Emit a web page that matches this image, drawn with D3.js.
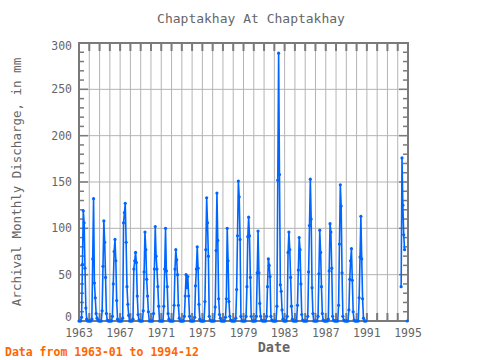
<!DOCTYPE html>
<html>
<head>
<meta charset="utf-8">
<script src="https://cdn.jsdelivr.net/npm/d3@7"></script>
<style>
  html, body { margin: 0; padding: 0; background: #fff; }
  svg { display: block; }
  text { font-family: "DejaVu Sans Mono", monospace; fill: #666; }
</style>
</head>
<body>
<svg id="chart" width="480" height="360"></svg>
<script>
// ---- Data (monthly discharge in mm, Jan..Dec per year; null = missing) ----
const startYear = 1963;
const discharge1960s = [
  0,0,0,4,61,119,106,57,14,2,0,0,      // 1963
  0,0,0,2,67,132,41,25,8,3,1,0,        // 1964
  0,0,0,11,59,108,85,47,8,1,0,0,       // 1965
  0,0,0,5,40,75,88,65,22,2,0,0,        // 1966
  0,0,0,3,106,117,127,85,37,18,6,0,    // 1967
  0,0,0,2,56,65,74,63,27,7,1,0,        // 1968
  0,0,0,11,53,96,77,45,27,10,0,0       // 1969
];
const discharge1970s = [
  0,0,0,8,56,102,70,56,37,16,0,0,      // 1970
  0,0,0,16,56,100,54,37,8,2,0,0,       // 1971
  0,0,0,17,56,77,66,50,17,3,0,0,       // 1972
  0,0,0,5,27,50,36,48,27,5,0,0,        // 1973
  0,0,0,4,38,56,80,57,18,2,0,0,        // 1974
  0,0,0,21,77,133,106,70,5,1,0,0,      // 1975
  0,0,0,15,76,138,87,24,7,3,0,0,       // 1976
  0,0,0,4,24,100,65,21,5,1,0,0,        // 1977
  0,0,0,3,34,92,151,134,88,5,0,0,      // 1978
  0,0,0,5,37,91,112,92,47,5,0,0        // 1979
];
const discharge1980s = [
  0,0,0,5,52,97,52,19,5,1,0,0,         // 1980
  0,0,0,5,37,67,60,48,5,1,0,0,         // 1981
  0,0,0,16,152,289,158,39,32,12,2,0,   // 1982
  0,0,0,5,74,96,77,47,16,2,0,0,        // 1983
  0,0,0,17,55,90,77,40,7,1,0,0,        // 1984
  0,0,0,5,53,103,153,110,36,8,0,0,     // 1985
  0,0,0,5,51,98,74,37,8,1,0,0,         // 1986
  0,0,0,2,54,105,96,57,5,1,0,0,        // 1987
  0,0,0,17,83,147,124,52,5,1,0,0,      // 1988
  0,0,0,12,45,65,78,44,10,1,0,0        // 1989
];
const discharge1990s = [
  0,0,0,25,69,113,67,24,3,0,0,0,       // 1990
  null,null,null,null,null,null,null,null,null,null,null,null, // 1991
  null,null,null,null,null,null,null,null,null,null,null,null, // 1992
  null,null,null,null,null,null,null,null,null,null,null,null, // 1993
  null,null,null,null,37,176,125,93,77,null,null,0            // 1994
];
const xTickLabels = ["1963","1967","1971","1975","1979","1983","1987","1991","1995"];
const yTickValues = [0,50,100,150,200,250,300];

const titleText = "Chaptakhay At Chaptakhay";
const yLabelText = "Archival Monthly Discharge, in mm";
const xLabelText = "Date";
const footerText = "Data from 1963-01 to 1994-12";

// ---- Build series ----
const allValues = discharge1960s.concat(discharge1970s, discharge1980s, discharge1990s);
const series = allValues.map((v, i) => ({ t: startYear + i / 12, v: v }));

// ---- Layout ----
const svg = d3.select("#chart");
const L = 79, R = 408, T = 43, B = 321;
const x = d3.scaleLinear().domain([1963, 1995]).range([L, R]);
const y = d3.scaleLinear().domain([0, 300]).range([B, T]);

const gridColor = "#b4b4b4";
const frameColor = "#7a7a7a";

// Grid: vertical every year, horizontal every 50
const years = d3.range(1963, 1996);
svg.append("g").selectAll("line").data(years.slice(1, -1)).join("line")
  .attr("x1", d => x(d)).attr("x2", d => x(d))
  .attr("y1", T).attr("y2", B)
  .attr("stroke", gridColor).attr("stroke-width", 1);
svg.append("g").selectAll("line").data(yTickValues.slice(1, -1)).join("line")
  .attr("x1", L).attr("x2", R)
  .attr("y1", d => y(d)).attr("y2", d => y(d))
  .attr("stroke", gridColor).attr("stroke-width", 1);

// Minor / major ticks on left & right (inside)
const minor = d3.range(0, 301, 10);
const tickG = svg.append("g").attr("stroke", frameColor).attr("stroke-width", 1.5);
tickG.selectAll(".lt").data(minor).join("line")
  .attr("x1", L).attr("x2", d => L + (d % 50 === 0 ? 9 : 5))
  .attr("y1", d => y(d)).attr("y2", d => y(d));
tickG.selectAll(".rt").data(minor).join("line")
  .attr("x1", R).attr("x2", d => R - (d % 50 === 0 ? 9 : 5))
  .attr("y1", d => y(d)).attr("y2", d => y(d));
// Top & bottom year ticks
const tbG = svg.append("g").attr("stroke", frameColor).attr("stroke-width", 2);
tbG.selectAll(".tt").data(years).join("line")
  .attr("x1", d => x(d)).attr("x2", d => x(d))
  .attr("y1", T).attr("y2", T + 8);
tbG.selectAll(".bt").data(years).join("line")
  .attr("x1", d => x(d)).attr("x2", d => x(d))
  .attr("y1", B).attr("y2", B - 8);

// Frame
svg.append("rect").attr("x", L).attr("y", T).attr("width", R - L).attr("height", B - T)
  .attr("fill", "none").attr("stroke", frameColor).attr("stroke-width", 2);

// Tick labels
svg.append("g").selectAll("text").data(yTickValues).join("text")
  .attr("x", L - 7)
  .attr("y", d => d === 0 ? y(d) - 4 : (d === 300 ? y(d) + 3 : y(d)))
  .attr("dy", "0.35em")
  .attr("text-anchor", "end")
  .style("font-size", "11.5px")
  .text(d => d);
svg.append("g").selectAll("text").data(xTickLabels).join("text")
  .attr("x", d => x(+d))
  .attr("y", 333)
  .attr("dy", "0.35em")
  .attr("text-anchor", "middle")
  .style("font-size", "11.5px")
  .text(d => d);

// Data line
const line = d3.line()
  .defined(d => d.v !== null)
  .x(d => x(d.t)).y(d => y(d.v));
svg.append("path").datum(series)
  .attr("fill", "none").attr("stroke", "#0066ff").attr("stroke-width", 1.6)
  .attr("stroke-linejoin", "round")
  .attr("d", line);
svg.append("g").selectAll("circle").data(series.filter(d => d.v !== null)).join("circle")
  .attr("cx", d => x(d.t)).attr("cy", d => y(d.v)).attr("r", 1.6)
  .attr("fill", "#0066ff");

// Titles
svg.append("text").attr("x", 251).attr("y", 18).attr("dy", "0.35em")
  .attr("text-anchor", "middle").style("font-size", "13px").text(titleText);
svg.append("text").attr("x", 274).attr("y", 347).attr("dy", "0.35em")
  .attr("text-anchor", "middle").style("font-size", "13.5px").style("font-weight", "bold").text(xLabelText);
svg.append("text")
  .attr("transform", `translate(17,${(T + B) / 2}) rotate(-90)`)
  .attr("dy", "0.35em")
  .attr("text-anchor", "middle").style("font-size", "12.5px").text(yLabelText);
svg.append("text").attr("x", 5).attr("y", 352).attr("dy", "0.35em")
  .attr("text-anchor", "start").style("font-size", "11.5px").style("font-weight", "bold")
  .style("fill", "#ff6600").text(footerText);
</script>
</body>
</html>
